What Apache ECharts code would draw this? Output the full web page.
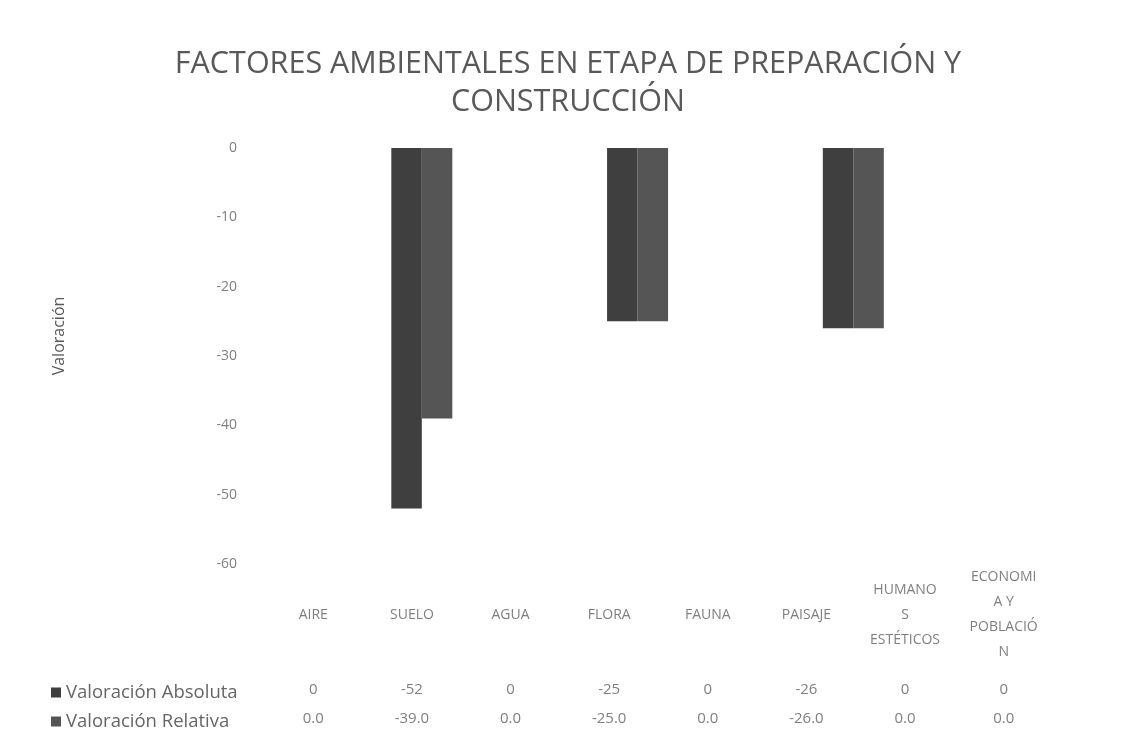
<!DOCTYPE html>
<html>
<head>
<meta charset="utf-8">
<script src="https://cdn.jsdelivr.net/npm/echarts@6/dist/echarts.min.js"></script>
<style>
  html, body { margin: 0; padding: 0; background: #fff; }
  #chart { width: 1123px; height: 748px; }
</style>
</head>
<body>
<div id="chart"></div>
<script>
const categories = ["AIRE", "SUELO", "AGUA", "FLORA", "FAUNA", "PAISAJE", "HUMANO\nS\nESTÉTICOS", "ECONOMI\nA Y\nPOBLACIÓ\nN"]
const seriesNames = ["Valoración Absoluta", "Valoración Relativa"]
const absoluta = [0, -52, 0, -25, 0, -26, 0, 0]
const relativa = [0, -39, 0, -25, 0, -26, 0, 0]
const yTicks = { min: -60, max: 0, interval: 10 }

const gray = "#7f7f7f"
const font = "'Open Sans', sans-serif"

// hidden-line category axis on the table grid, used for labels and table rows
function tableAxis(margin, formatter, extra) {
  return {
    gridIndex: 1,
    type: "category",
    position: "bottom",
    data: categories,
    axisLine: { show: false },
    axisTick: { show: false },
    axisLabel: Object.assign({
      margin,
      verticalAlign: "middle",
      color: gray,
      fontSize: 14,
      fontFamily: font,
      formatter
    }, extra || {})
  }
}

const chart = echarts.init(document.getElementById("chart"))

chart.setOption({
  backgroundColor: "#fff",
  animation: false,
  textStyle: { fontFamily: font },
  title: {
    text: "FACTORES AMBIENTALES EN ETAPA DE PREPARACIÓN Y\nCONSTRUCCIÓN",
    left: 563,
    textAlign: "center",
    top: 40,
    textStyle: {
      fontFamily: font,
      fontSize: 30.5,
      fontWeight: "normal",
      color: "#595959",
      lineHeight: 38
    }
  },
  legend: {
    data: seriesNames,
    orient: "vertical",
    left: 46,
    top: 678,
    itemGap: 10,
    itemWidth: 10,
    itemHeight: 10,
    icon: "rect",
    textStyle: { fontFamily: font, fontSize: 18.5, color: "#666666" }
  },
  grid: [
    // bars
    { left: 260, top: 148, width: 866, height: 416 },
    // category labels + data table
    { left: 264, top: 148, width: 789, height: 416 }
  ],
  xAxis: [
    {
      gridIndex: 0,
      type: "category",
      position: "bottom",
      data: categories,
      axisLine: { show: false },
      axisTick: { show: false },
      axisLabel: { show: false }
    },
    tableAxis(51, null, { fontSize: 14, lineHeight: 25 }),
    tableAxis(126, (v, i) => String(absoluta[i]), { fontSize: 15 }),
    tableAxis(155, (v, i) => relativa[i].toFixed(1), { fontSize: 15 })
  ],
  yAxis: [
    {
      gridIndex: 0,
      type: "value",
      min: yTicks.min,
      max: yTicks.max,
      interval: yTicks.interval,
      name: "Valoración",
      nameLocation: "middle",
      nameGap: 193,
      nameTextStyle: { fontFamily: font, fontSize: 16, color: "#595959", padding: [0, 0, 0, 40] },
      axisLine: { show: false },
      axisTick: { show: false },
      splitLine: { show: false },
      axisLabel: { margin: 23, color: gray, fontSize: 14, fontFamily: font }
    },
    {
      gridIndex: 1,
      type: "value",
      show: false
    }
  ],
  series: [
    {
      name: seriesNames[0],
      type: "bar",
      xAxisIndex: 0,
      yAxisIndex: 0,
      data: absoluta,
      barWidth: 30.5,
      barGap: "0%",
      itemStyle: { color: "#3f3f3f" }
    },
    {
      name: seriesNames[1],
      type: "bar",
      xAxisIndex: 0,
      yAxisIndex: 0,
      data: relativa,
      barWidth: 30.5,
      barGap: "0%",
      itemStyle: { color: "#555555" }
    }
  ]
})
</script>
</body>
</html>
